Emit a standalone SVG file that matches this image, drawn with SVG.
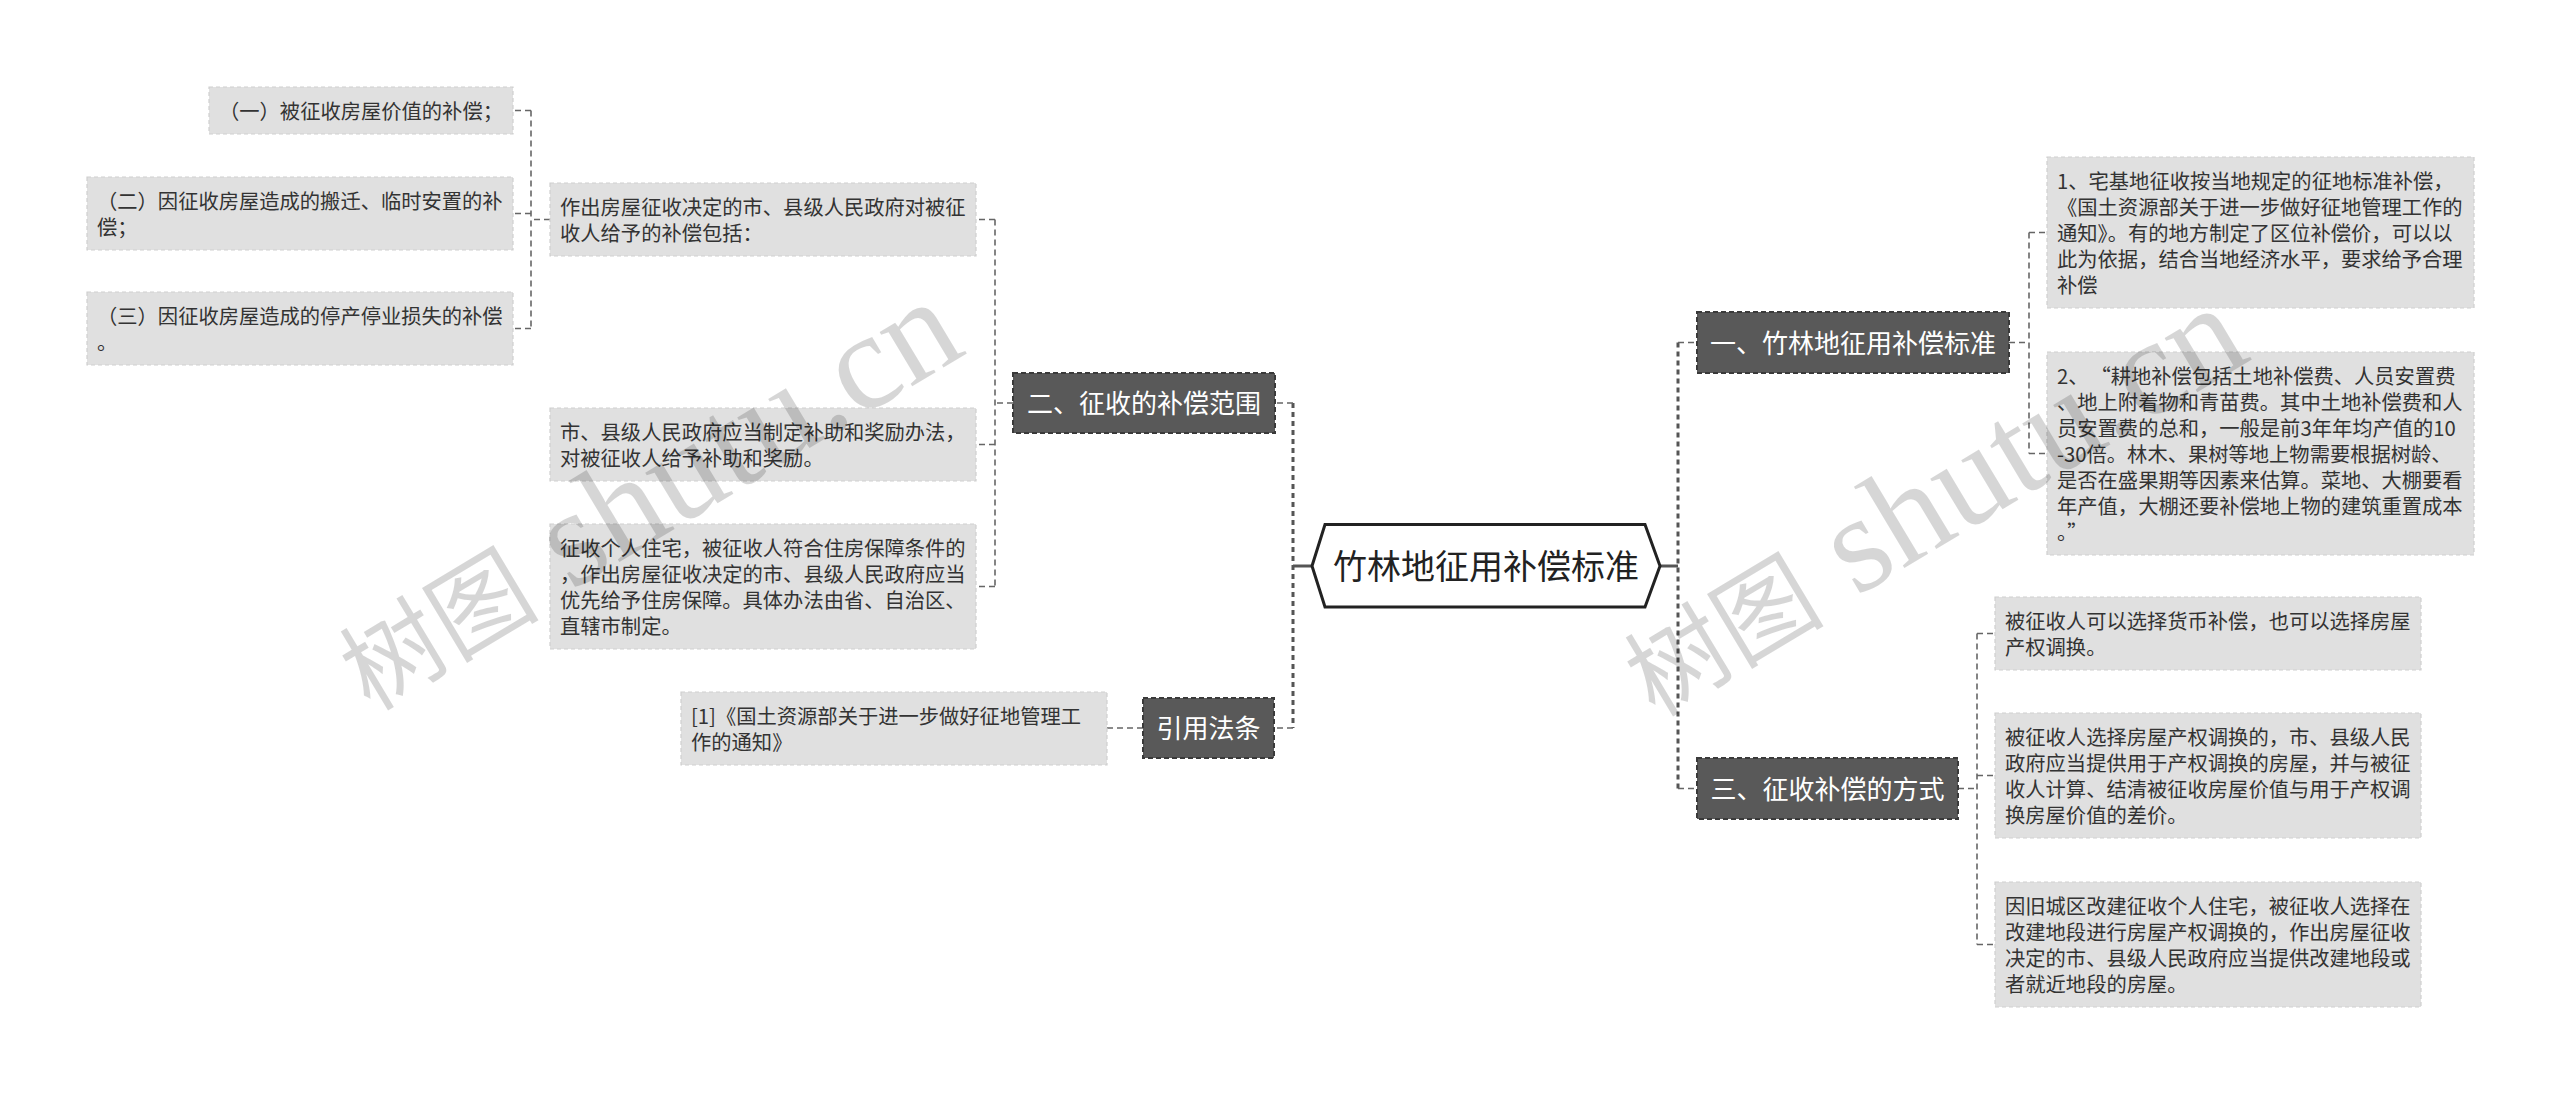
<svg xmlns="http://www.w3.org/2000/svg" width="2560" height="1093" viewBox="0 0 2560 1093">
<style>
.lb{fill:#e0e0e0;stroke:#cfcfcf;stroke-width:1.2;stroke-dasharray:4 3}
.lt{font-family:"Noto Sans CJK SC","Noto Sans",sans-serif;font-size:20.3px;fill:#333}
.db{fill:#595959;stroke:#3a3a3a;stroke-width:2;stroke-dasharray:5 3}
.dt{font-family:"Noto Sans CJK SC","Noto Sans",sans-serif;font-size:26px;fill:#ffffff;text-anchor:middle}
.c1{fill:none;stroke:#555;stroke-width:3;stroke-dasharray:5 4}
.c2{fill:none;stroke:#666;stroke-width:1.6;stroke-dasharray:6 4}
.cs{fill:none;stroke:#555;stroke-width:3}
.wm{fill:#000;fill-opacity:0.16}
</style>
<rect width="2560" height="1093" fill="#ffffff"/>
<g id="connectors">
<path class="cs" d="M1312,566 H1293"/>
<path class="c1" d="M1293,403 V728"/>
<path class="c2" d="M1293,403 H1275 M1293,728 H1274"/>
<path class="cs" d="M1660,566 H1678"/>
<path class="c1" d="M1678,342.5 V788.5"/>
<path class="c2" d="M1678,342.5 H1697 M1678,788.5 H1697"/>
<path class="c2" d="M1013,403 H995 M995,219.5 V586.5 M995,219.5 H976 M995,444.5 H976 M995,586.5 H976"/>
<path class="c2" d="M550,219.5 H531 M531,110.5 V328.5 M531,110.5 H513 M531,213.5 H513 M531,328.5 H513"/>
<path class="c2" d="M1143,728 H1106"/>
<path class="c2" d="M2009,342.5 H2029 M2029,232.5 V453.5 M2029,232.5 H2047 M2029,453.5 H2047"/>
<path class="c2" d="M1958,788.5 H1977 M1977,633.5 V944.5 M1977,633.5 H1995 M1977,775.5 H1995 M1977,944.5 H1995"/>
</g>
<g id="root">
<polygon points="1312,566 1325,524.5 1645,524.5 1660,566 1645,607 1325,607" fill="#ffffff" stroke="#222" stroke-width="3"/>
<text x="1486" y="579" font-family="'Noto Sans CJK SC','Noto Sans',sans-serif" font-size="34" fill="#222" text-anchor="middle">竹林地征用补偿标准</text>
</g>
<g id="n-er">
<rect class="db" x="1013" y="373" width="262" height="60"/>
<text class="dt" x="1144" y="413">二、征收的补偿范围</text>
</g>
<g id="n-yinyong">
<rect class="db" x="1143" y="698" width="131" height="60"/>
<text class="dt" x="1208.5" y="738">引用法条</text>
</g>
<g id="n-yi">
<rect class="db" x="1697" y="312" width="312" height="61"/>
<text class="dt" x="1853" y="352.5">一、竹林地征用补偿标准</text>
</g>
<g id="n-san">
<rect class="db" x="1697" y="758" width="261" height="61"/>
<text class="dt" x="1827.5" y="798.5">三、征收补偿的方式</text>
</g>
<g id="a1">
<rect class="lb" x="209" y="87" width="304" height="47"/>
<text class="lt" x="219" y="118.5">（一）被征收房屋价值的补偿；</text>
</g>
<g id="a2">
<rect class="lb" x="87" y="177" width="426" height="73"/>
<text class="lt" x="97" y="208.5"><tspan x="97">（二）因征收房屋造成的搬迁、临时安置的补</tspan><tspan x="97" dy="26">偿；</tspan></text>
</g>
<g id="a3">
<rect class="lb" x="87" y="292" width="426" height="73"/>
<text class="lt" x="97" y="323.5"><tspan x="97">（三）因征收房屋造成的停产停业损失的补偿</tspan><tspan x="97" dy="26">。</tspan></text>
</g>
<g id="b1">
<rect class="lb" x="550" y="183" width="426" height="73"/>
<text class="lt" x="560" y="214.5"><tspan x="560">作出房屋征收决定的市、县级人民政府对被征</tspan><tspan x="560" dy="26">收人给予的补偿包括：</tspan></text>
</g>
<g id="b2">
<rect class="lb" x="550" y="408" width="426" height="73"/>
<text class="lt" x="560" y="439.5"><tspan x="560">市、县级人民政府应当制定补助和奖励办法，</tspan><tspan x="560" dy="26">对被征收人给予补助和奖励。</tspan></text>
</g>
<g id="b3">
<rect class="lb" x="550" y="524" width="426" height="125"/>
<text class="lt" x="560" y="555.5"><tspan x="560">征收个人住宅，被征收人符合住房保障条件的</tspan><tspan x="560" dy="26">，作出房屋征收决定的市、县级人民政府应当</tspan><tspan x="560" dy="26">优先给予住房保障。具体办法由省、自治区、</tspan><tspan x="560" dy="26">直辖市制定。</tspan></text>
</g>
<g id="c1">
<rect class="lb" x="681" y="692" width="426" height="73"/>
<text class="lt" x="691" y="723.5"><tspan x="691">[1]《国土资源部关于进一步做好征地管理工</tspan><tspan x="691" dy="26">作的通知》</tspan></text>
</g>
<g id="d1">
<rect class="lb" x="2047" y="157" width="427" height="151"/>
<text class="lt" x="2057" y="188.5"><tspan x="2057">1、宅基地征收按当地规定的征地标准补偿，</tspan><tspan x="2057" dy="26">《国土资源部关于进一步做好征地管理工作的</tspan><tspan x="2057" dy="26">通知》。有的地方制定了区位补偿价，可以以</tspan><tspan x="2057" dy="26">此为依据，结合当地经济水平，要求给予合理</tspan><tspan x="2057" dy="26">补偿</tspan></text>
</g>
<g id="d2">
<rect class="lb" x="2047" y="352" width="427" height="203"/>
<text class="lt" x="2057" y="383.5"><tspan x="2057">2、</tspan><tspan dx="12">“耕地补偿包括土地补偿费、人员安置费</tspan><tspan x="2057" dy="26">、地上附着物和青苗费。其中土地补偿费和人</tspan><tspan x="2057" dy="26">员安置费的总和，一般是前3年年均产值的10</tspan><tspan x="2057" dy="26">-30倍。林木、果树等地上物需要根据树龄、</tspan><tspan x="2057" dy="26">是否在盛果期等因素来估算。菜地、大棚要看</tspan><tspan x="2057" dy="26">年产值，大棚还要补偿地上物的建筑重置成本</tspan><tspan x="2057" dy="26">。”</tspan></text>
</g>
<g id="e1">
<rect class="lb" x="1995" y="597" width="426" height="73"/>
<text class="lt" x="2005" y="628.5"><tspan x="2005">被征收人可以选择货币补偿，也可以选择房屋</tspan><tspan x="2005" dy="26">产权调换。</tspan></text>
</g>
<g id="e2">
<rect class="lb" x="1995" y="713" width="426" height="125"/>
<text class="lt" x="2005" y="744.5"><tspan x="2005">被征收人选择房屋产权调换的，市、县级人民</tspan><tspan x="2005" dy="26">政府应当提供用于产权调换的房屋，并与被征</tspan><tspan x="2005" dy="26">收人计算、结清被征收房屋价值与用于产权调</tspan><tspan x="2005" dy="26">换房屋价值的差价。</tspan></text>
</g>
<g id="e3">
<rect class="lb" x="1995" y="882" width="426" height="125"/>
<text class="lt" x="2005" y="913.5"><tspan x="2005">因旧城区改建征收个人住宅，被征收人选择在</tspan><tspan x="2005" dy="26">改建地段进行房屋产权调换的，作出房屋征收</tspan><tspan x="2005" dy="26">决定的市、县级人民政府应当提供改建地段或</tspan><tspan x="2005" dy="26">者就近地段的房屋。</tspan></text>
</g>
<g id="watermarks">
<text class="wm" transform="translate(370,712) rotate(-31)"><tspan font-family="'Noto Sans CJK SC',sans-serif" font-size="100">树图</tspan><tspan font-family="'Liberation Serif',serif" font-size="138"> shutu.cn</tspan></text>
<text class="wm" transform="translate(1655,718) rotate(-31)"><tspan font-family="'Noto Sans CJK SC',sans-serif" font-size="100">树图</tspan><tspan font-family="'Liberation Serif',serif" font-size="138"> shutu.cn</tspan></text>
</g>
</svg>
